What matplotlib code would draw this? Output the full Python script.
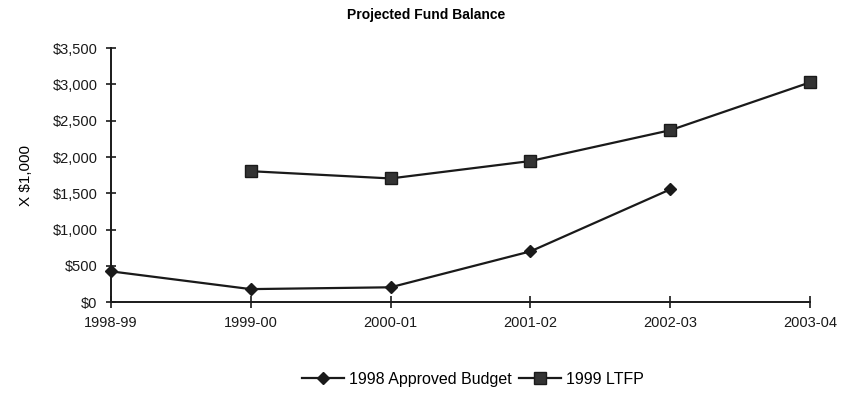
import matplotlib
matplotlib.use("Agg")
import matplotlib.pyplot as plt
from matplotlib.ticker import FuncFormatter

plt.rcParams['font.family'] = ['Liberation Sans', 'DejaVu Sans']

years = ["1998-99", "1999-00", "2000-01", "2001-02", "2002-03", "2003-04"]
budget_years = ["1998-99", "1999-00", "2000-01", "2001-02", "2002-03"]
budget_vals = [425, 180, 205, 700, 1555]
ltfp_years = ["1999-00", "2000-01", "2001-02", "2002-03", "2003-04"]
ltfp_vals = [1805, 1705, 1945, 2370, 3030]
yticks = [0, 500, 1000, 1500, 2000, 2500, 3000, 3500]

fig = plt.figure(figsize=(8.52, 3.95), dpi=100)
ax = fig.add_axes([0.130, 0.235, 0.821, 0.643])

xi = {y: i for i, y in enumerate(years)}
ax.plot([xi[y] for y in budget_years], budget_vals, color='#1a1a1a', lw=1.6,
        marker='D', markersize=6.5, label='1998 Approved Budget', clip_on=False)
ax.plot([xi[y] for y in ltfp_years], ltfp_vals, color='#1a1a1a', lw=1.6,
        marker='s', markersize=8, markerfacecolor='#333333', label='1999 LTFP',
        clip_on=False)

ax.set_xlim(0, len(years) - 1)
ax.set_ylim(0, 3500)
ax.set_xticks(range(len(years)))
ax.set_xticklabels(years)
ax.set_yticks(yticks)
ax.yaxis.set_major_formatter(FuncFormatter(lambda v, p: f"${int(v):,}"))
for s in ['top', 'right']:
    ax.spines[s].set_visible(False)
for s in ['left', 'bottom']:
    ax.spines[s].set_linewidth(1.4)
    ax.spines[s].set_color('#1a1a1a')
ax.tick_params(axis='both', direction='inout', length=8, width=1.2,
               labelsize=10.5, colors='#1a1a1a')
ax.tick_params(axis='x', pad=6)
ax.tick_params(axis='y', length=7, pad=6)
ax.set_ylabel("X $1,000", fontsize=11, labelpad=14)
fig.text(0.5, 0.962, "Projected Fund Balance", ha='center', va='center',
         fontsize=10, fontweight='bold')
leg = fig.legend(loc='center', bbox_to_anchor=(0.555, 0.04), ncol=2, frameon=False,
                 fontsize=11.5, handlelength=2.6, columnspacing=0.5, handletextpad=0.3)
fig.savefig("out.png", dpi=100)
